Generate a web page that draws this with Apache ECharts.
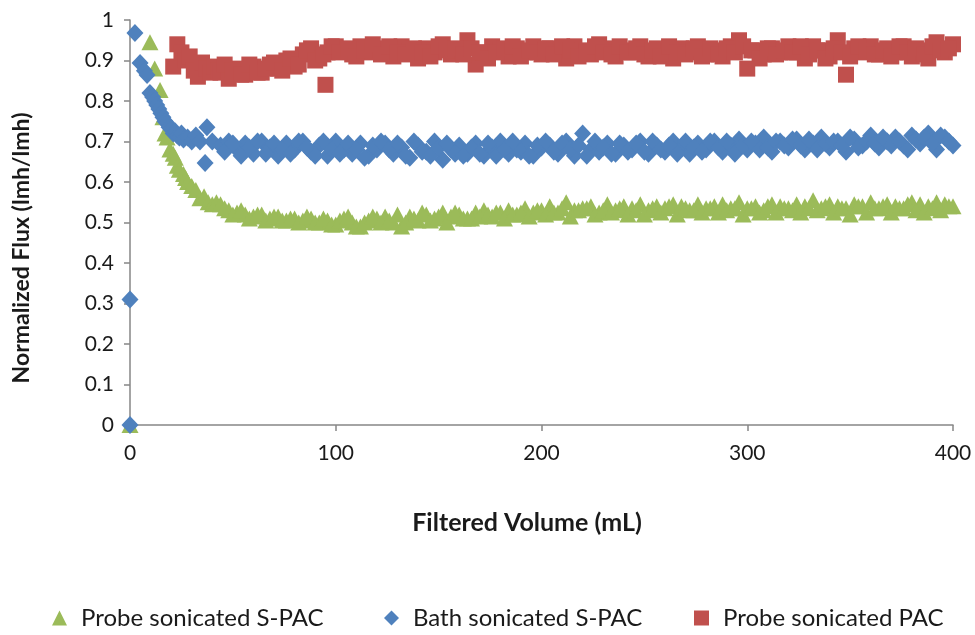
<!DOCTYPE html>
<html>
<head>
<meta charset="utf-8">
<script src="https://cdn.jsdelivr.net/npm/echarts@6/dist/echarts.min.js"></script>
<style>
html,body{margin:0;padding:0;background:#fff;}
#chart{width:975px;height:635px;}
</style>
</head>
<body>
<div id="chart"></div>
<script>
// Filtered volume values (mL) for the steady part of the run (two interleaved readings)
const volumeTailA = [
  44,48,52,56,60,64,68,72,76,80,
  84,88,92,96,100,104,108,112,116,120,
  124,128,132,136,140,144,148,152,156,160,
  164,168,172,176,180,184,188,192,196,200,
  204,208,212,216,220,224,228,232,236,240,
  244,248,252,256,260,264,268,272,276,280,
  284,288,292,296,300,304,308,312,316,320,
  324,328,332,336,340,344,348,352,356,360,
  364,368,372,376,380,384,388,392,396,400
];
const volumeTailB = [
  46,50,54,58,62,66,70,74,78,82,
  86,90,94,98,102,106,110,114,118,122,
  126,130,134,138,142,146,150,154,158,162,
  166,170,174,178,182,186,190,194,198,202,
  206,210,214,218,222,226,230,234,238,242,
  246,250,254,258,262,266,270,274,278,282,
  286,290,294,298,302,306,310,314,318,322,
  326,330,334,338,342,346,350,354,358,362,
  366,370,374,378,382,386,390,394,398
];

// Probe sonicated S-PAC (green triangles)
const greenVolumeHead = [0,9.7,12,14.6,16,17,18,19.4,21,22,23,24,26,27,28,30,32,34,36,38,40,42];
const greenFluxHead   = [0,0.945,0.88,0.827,0.76,0.72,0.71,0.68,0.67,0.66,0.64,0.63,0.62,0.61,0.60,0.59,0.58,0.56,0.565,0.55,0.545,0.55];
const greenFluxA = [
  0.545,0.53,0.525,0.52,0.515,0.52,0.51,0.515,0.505,0.51,
  0.505,0.51,0.50,0.505,0.495,0.51,0.50,0.49,0.505,0.51,
  0.515,0.50,0.49,0.515,0.505,0.52,0.51,0.525,0.515,0.52,
  0.51,0.525,0.53,0.515,0.525,0.53,0.52,0.535,0.525,0.53,
  0.54,0.525,0.55,0.53,0.535,0.54,0.525,0.545,0.53,0.54,
  0.535,0.545,0.53,0.54,0.535,0.545,0.54,0.53,0.545,0.535,
  0.54,0.545,0.535,0.55,0.535,0.54,0.53,0.545,0.54,0.535,
  0.545,0.54,0.555,0.535,0.545,0.54,0.535,0.545,0.54,0.55,
  0.535,0.545,0.54,0.535,0.55,0.545,0.54,0.55,0.545,0.54
];
const greenFluxB = [
  0.535,0.52,0.53,0.51,0.52,0.505,0.515,0.505,0.51,0.50,
  0.515,0.50,0.51,0.495,0.505,0.515,0.49,0.50,0.515,0.50,
  0.505,0.52,0.50,0.51,0.525,0.505,0.515,0.50,0.525,0.51,
  0.51,0.515,0.52,0.525,0.51,0.52,0.525,0.515,0.53,0.52,
  0.525,0.535,0.515,0.53,0.535,0.52,0.53,0.525,0.535,0.52,
  0.53,0.52,0.535,0.525,0.54,0.52,0.535,0.53,0.525,0.535,
  0.525,0.53,0.535,0.52,0.535,0.525,0.54,0.525,0.535,0.53,
  0.525,0.535,0.53,0.54,0.525,0.535,0.52,0.54,0.525,0.535,
  0.54,0.525,0.535,0.545,0.53,0.525,0.535,0.53,0.54
];

// Bath sonicated S-PAC (blue diamonds)
const blueVolumeHead = [0,0,2.4,4.9,7,8.3,9.7,11,12,13,14,15,16,17,18,19,20,21,22,23,24,25,26,28,30,32,34,36.5,37.4,40];
const blueFluxHead   = [0,0.31,0.968,0.894,0.875,0.864,0.82,0.81,0.80,0.79,0.78,0.77,0.76,0.75,0.745,0.735,0.73,0.72,0.725,0.715,0.71,0.72,0.705,0.71,0.70,0.715,0.70,0.647,0.735,0.70];
const blueFluxA = [
  0.69,0.70,0.68,0.695,0.67,0.70,0.685,0.665,0.695,0.68,
  0.70,0.675,0.69,0.665,0.70,0.68,0.67,0.695,0.665,0.68,
  0.695,0.67,0.685,0.66,0.69,0.675,0.70,0.655,0.68,0.69,
  0.67,0.695,0.665,0.685,0.70,0.67,0.68,0.695,0.665,0.685,
  0.69,0.67,0.70,0.665,0.72,0.68,0.675,0.695,0.67,0.69,
  0.68,0.70,0.67,0.69,0.675,0.70,0.685,0.67,0.695,0.68,
  0.70,0.675,0.69,0.705,0.68,0.695,0.71,0.675,0.70,0.685,
  0.705,0.68,0.695,0.71,0.685,0.70,0.675,0.705,0.69,0.715,
  0.685,0.70,0.71,0.69,0.715,0.695,0.72,0.68,0.71,0.69
];
const blueFluxB = [
  0.675,0.695,0.665,0.685,0.70,0.67,0.695,0.68,0.67,0.70,
  0.685,0.665,0.70,0.68,0.67,0.695,0.68,0.66,0.69,0.70,
  0.68,0.695,0.665,0.70,0.675,0.665,0.685,0.695,0.67,0.665,
  0.685,0.67,0.695,0.665,0.68,0.70,0.675,0.665,0.69,0.70,
  0.675,0.695,0.68,0.69,0.665,0.70,0.685,0.67,0.695,0.675,
  0.695,0.675,0.70,0.68,0.69,0.67,0.70,0.685,0.675,0.70,
  0.685,0.70,0.67,0.69,0.70,0.68,0.685,0.70,0.69,0.705,
  0.69,0.705,0.68,0.695,0.70,0.69,0.71,0.685,0.70,0.695,
  0.71,0.69,0.70,0.68,0.705,0.71,0.695,0.715,0.70
];

// Probe sonicated PAC (red squares)
const redVolumeHead = [21,23,25,27,29,31,33,35,37,39,41,43,95];
const redFluxHead   = [0.885,0.94,0.92,0.90,0.91,0.875,0.86,0.895,0.88,0.87,0.885,0.875,0.84];
const redFluxA = [
  0.87,0.855,0.88,0.865,0.885,0.87,0.89,0.88,0.90,0.885,
  0.915,0.93,0.905,0.92,0.935,0.925,0.915,0.935,0.92,0.93,
  0.92,0.91,0.935,0.925,0.905,0.93,0.92,0.94,0.915,0.925,
  0.95,0.89,0.92,0.935,0.925,0.91,0.93,0.92,0.935,0.915,
  0.93,0.92,0.905,0.935,0.925,0.915,0.94,0.93,0.91,0.925,
  0.92,0.935,0.91,0.93,0.925,0.905,0.93,0.92,0.935,0.915,
  0.925,0.91,0.935,0.95,0.88,0.925,0.915,0.93,0.92,0.935,
  0.92,0.905,0.935,0.925,0.91,0.95,0.865,0.93,0.92,0.935,
  0.915,0.93,0.92,0.935,0.91,0.925,0.905,0.945,0.92,0.94
];
const redFluxB = [
  0.89,0.875,0.865,0.89,0.87,0.88,0.895,0.875,0.905,0.89,
  0.925,0.90,0.915,0.935,0.92,0.93,0.91,0.925,0.94,0.915,
  0.935,0.92,0.915,0.93,0.92,0.91,0.935,0.925,0.93,0.915,
  0.93,0.92,0.905,0.92,0.93,0.935,0.91,0.925,0.92,0.93,
  0.915,0.935,0.925,0.91,0.92,0.935,0.92,0.915,0.935,0.92,
  0.93,0.915,0.925,0.91,0.935,0.92,0.915,0.93,0.91,0.93,
  0.915,0.93,0.92,0.935,0.925,0.905,0.93,0.915,0.925,0.92,
  0.935,0.915,0.925,0.905,0.93,0.92,0.91,0.935,0.925,0.915,
  0.925,0.91,0.935,0.92,0.93,0.915,0.935,0.925,0.93
];

const seriesNames = ['Probe sonicated S-PAC', 'Bath sonicated S-PAC', 'Probe sonicated PAC'];
const xTicks = [0, 100, 200, 300, 400];
const yTicks = [0, 0.1, 0.2, 0.3, 0.4, 0.5, 0.6, 0.7, 0.8, 0.9, 1];
const xTitle = 'Filtered Volume (mL)';
const yTitle = 'Normalized Flux (lmh/lmh)';

function zip(xs, ys) { return xs.map((x, i) => [x, ys[i]]); }

const greenData = zip(greenVolumeHead, greenFluxHead).concat(zip(volumeTailA, greenFluxA), zip(volumeTailB, greenFluxB));
const blueData  = zip(blueVolumeHead, blueFluxHead).concat(zip(volumeTailA, blueFluxA), zip(volumeTailB, blueFluxB));
const redData   = zip(redVolumeHead, redFluxHead).concat(zip(volumeTailA, redFluxA), zip(volumeTailB, redFluxB));

const FONT = 'Lato, "Open Sans", sans-serif';
const TXT = '#1a1a1a';
const axisGray = '#868686';

const legendText = {fontFamily: FONT, fontSize: 24, color: TXT, padding: [0, 0, 0, 9]};
function legendAt(name, left) {
  return {data: [name], top: 601, left: left, itemWidth: 15, itemHeight: 15,
          textStyle: legendText, selectedMode: false};
}

const chart = echarts.init(document.getElementById('chart'), null, {renderer: 'canvas'});
chart.setOption({
  animation: false,
  backgroundColor: '#ffffff',
  textStyle: {fontFamily: FONT},
  grid: {left: 130, right: 22, top: 20, bottom: 210, containLabel: false, outerBoundsMode: 'none'},
  legend: [legendAt(seriesNames[0], 47), legendAt(seriesNames[1], 379), legendAt(seriesNames[2], 689)],
  graphic: [
    {type: 'text', x: 527, y: 523,
     style: {text: xTitle, font: 'bold 25px ' + FONT, fill: TXT, align: 'center', verticalAlign: 'middle'}},
    {type: 'text', x: 22, y: 248, rotation: Math.PI / 2,
     style: {text: yTitle, font: 'bold 23px ' + FONT, fill: TXT, align: 'center', verticalAlign: 'middle'}}
  ],
  xAxis: {
    type: 'value',
    min: xTicks[0], max: xTicks[xTicks.length - 1], interval: 100,
    axisLine: {lineStyle: {color: axisGray, width: 1.5}},
    axisTick: {show: true, length: 6, lineStyle: {color: axisGray, width: 1.5}},
    axisLabel: {fontFamily: FONT, fontSize: 21, color: TXT, margin: 18},
    splitLine: {show: false}
  },
  yAxis: {
    type: 'value',
    min: yTicks[0], max: yTicks[yTicks.length - 1], interval: 0.1,
    axisLine: {show: true, lineStyle: {color: axisGray, width: 1.5}},
    axisTick: {show: true, length: 6, lineStyle: {color: axisGray, width: 1.5}},
    axisLabel: {fontFamily: FONT, fontSize: 21, color: TXT, margin: 16,
      formatter: v => String(Math.round(v * 10) / 10)},
    splitLine: {show: false}
  },
  series: [
    {name: seriesNames[0], type: 'scatter', symbol: 'triangle', symbolSize: [17, 16],
     itemStyle: {color: '#9BBB59', opacity: 1}, data: greenData},
    {name: seriesNames[1], type: 'scatter', symbol: 'diamond', symbolSize: [17, 18],
     itemStyle: {color: '#4F81BD', opacity: 1}, data: blueData},
    {name: seriesNames[2], type: 'scatter', symbol: 'rect', symbolSize: 16,
     itemStyle: {color: '#C0504D', opacity: 1}, data: redData}
  ]
});
</script>
</body>
</html>
